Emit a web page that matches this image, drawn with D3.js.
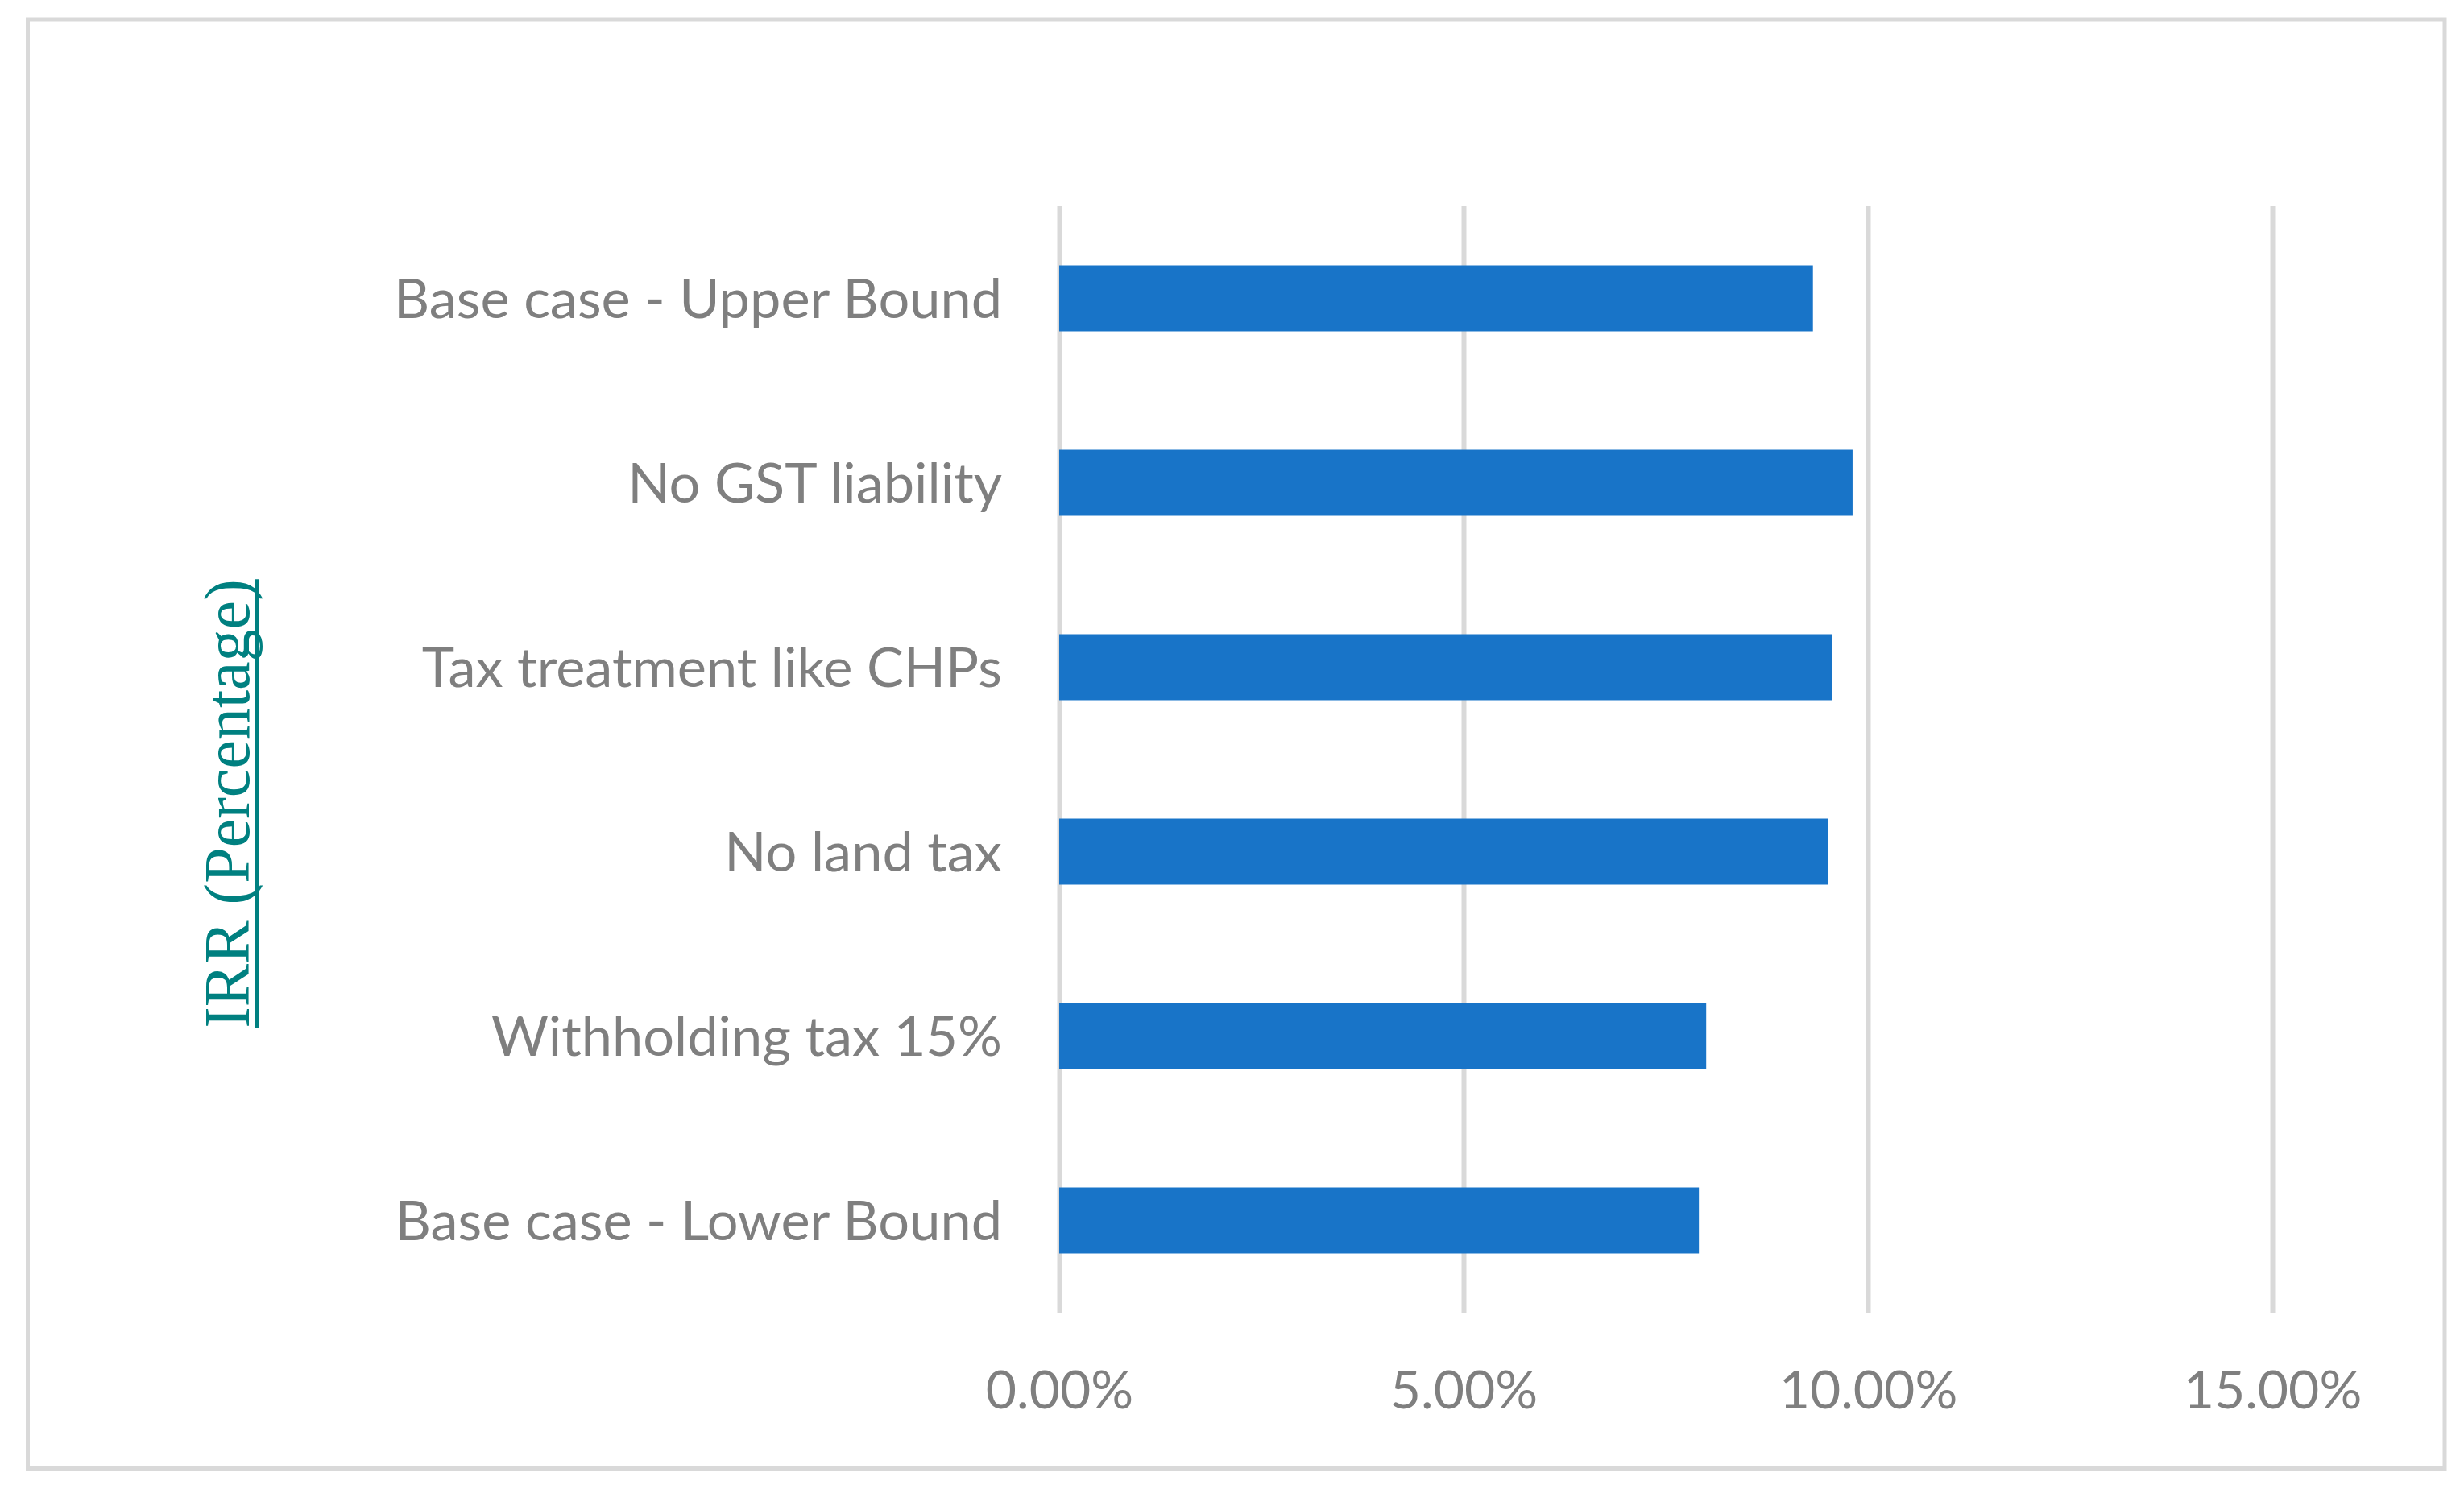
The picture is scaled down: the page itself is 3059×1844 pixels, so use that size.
<!DOCTYPE html>
<html>
<head>
<meta charset="utf-8">
<script src="https://cdn.jsdelivr.net/npm/d3@7"></script>
<style>
    html, body { margin: 0; padding: 0; background: #ffffff; }
    svg { display: block; }
</style>
</head>
<body>
<script>
// 情景名称 (top to bottom)
var v_Categories = ["Base case - Upper Bound"
                   ,"No GST liability"
                   ,"Tax treatment like CHPs"
                   ,"No land tax"
                   ,"Withholding tax 15%"
                   ,"Base case - Lower Bound"];

// IRR 数值
var v_IRR        = [0.0932, 0.0981, 0.0956, 0.0951, 0.0800, 0.0791];

// 横轴刻度
var v_XTicks     = [0, 0.05, 0.10, 0.15];

var v_AxisTitle  = "IRR (Percentage)";



var v_Width  = 3059;
var v_Height = 1844;
var v_Left   = 1315;
var v_Right  = 2821;
var v_Top    = 256;
var v_Bottom = 1630;

var v_Font      = "Lato, 'Open Sans', sans-serif";
var v_TextColor = "#7f7f7f";
var v_GridColor = "#d9d9d9";
var v_BarColor  = "#1874c8";

var v_SVG = d3.select("body").append("svg")
    .attr("width",  v_Width)
    .attr("height", v_Height);

v_SVG.append("rect")
    .attr("width",  v_Width)
    .attr("height", v_Height)
    .attr("fill",   "#ffffff");

// 外框
v_SVG.append("rect")
    .attr("x", 34.5)
    .attr("y", 24)
    .attr("width",  3000.5)
    .attr("height", 1799.5)
    .attr("fill",   "none")
    .attr("stroke", v_GridColor)
    .attr("stroke-width", 5);

var v_X = d3.scaleLinear()
    .domain([0, 0.15])
    .range([v_Left, v_Right]);

var v_Y = d3.scaleBand()
    .domain(v_Categories)
    .range([v_Top, v_Bottom])
    .paddingInner(0.642)
    .paddingOuter(0.321);

// 横轴与网格线
var v_XAxis = v_SVG.append("g")
    .attr("transform", "translate(0," + v_Bottom + ")")
    .call(d3.axisBottom(v_X)
        .tickValues(v_XTicks)
        .tickFormat(d3.format(".2%"))
        .tickSize(-(v_Bottom - v_Top))
        .tickSizeOuter(0));

v_XAxis.select(".domain").remove();
v_XAxis.selectAll(".tick line")
    .attr("stroke", v_GridColor)
    .attr("stroke-width", 6);
v_XAxis.selectAll(".tick text")
    .attr("y", 119)
    .attr("dy", null)
    .attr("fill", v_TextColor)
    .style("font-family", v_Font)
    .style("font-size", "66px");

// 条形
v_SVG.append("g")
    .selectAll("rect")
    .data(v_IRR)
    .join("rect")
    .attr("x",      v_X(0))
    .attr("y",      (d, i) => v_Y(v_Categories[i]))
    .attr("width",  d => v_X(d) - v_X(0))
    .attr("height", v_Y.bandwidth())
    .attr("fill",   v_BarColor);

// 纵轴标签
var v_YAxis = v_SVG.append("g")
    .attr("transform", "translate(" + v_Left + ",0)")
    .call(d3.axisLeft(v_Y).tickSize(0).tickPadding(71));

v_YAxis.select(".domain").remove();
v_YAxis.selectAll(".tick text")
    .attr("dy", "0.36em")
    .attr("fill", v_TextColor)
    .style("font-family", v_Font)
    .style("font-size", "68.5px");

// 纵轴标题 (带下划线)
var v_Title = v_SVG.append("g")
    .attr("transform", "translate(309,998) rotate(-90)");

var v_TitleText = v_Title.append("text")
    .attr("text-anchor", "middle")
    .attr("fill", "#008080")
    .style("font-family", "'Liberation Serif', 'Times New Roman', serif")
    .style("font-size", "80px")
    .text(v_AxisTitle);

var v_TitleLen = v_TitleText.node().getComputedTextLength();
v_Title.append("line")
    .attr("x1", -v_TitleLen / 2)
    .attr("x2",  v_TitleLen / 2)
    .attr("y1", 10)
    .attr("y2", 10)
    .attr("stroke", "#008080")
    .attr("stroke-width", 4);
</script>
</body>
</html>
